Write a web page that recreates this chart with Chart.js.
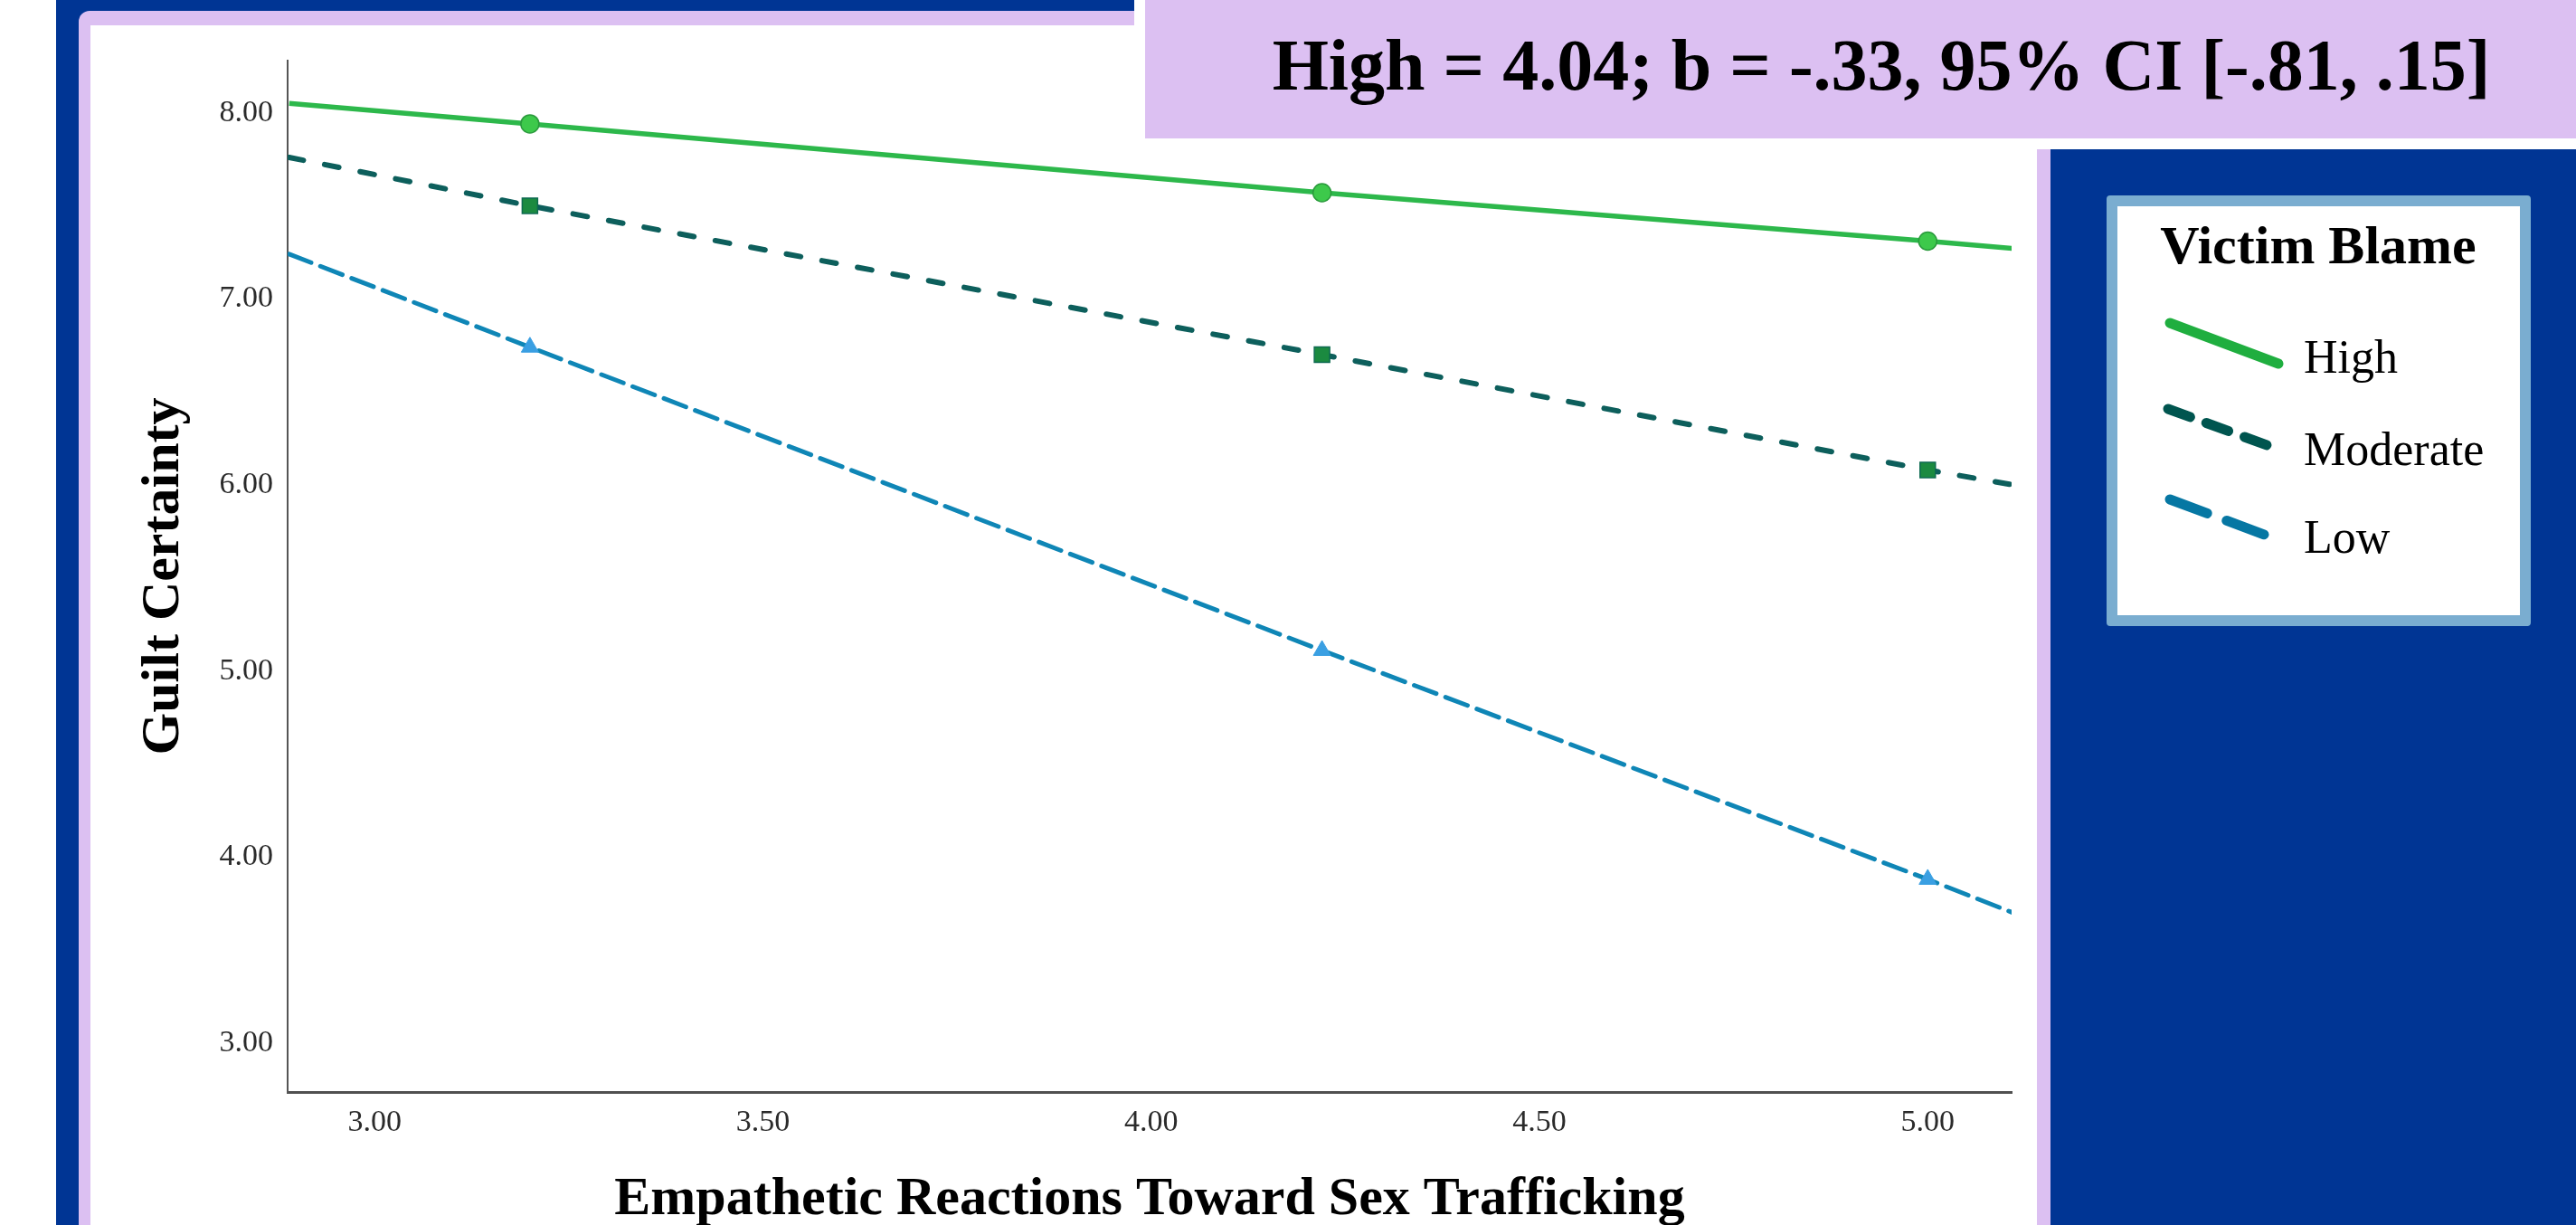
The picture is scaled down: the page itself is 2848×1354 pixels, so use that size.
<!DOCTYPE html>
<html>
<head>
<meta charset="utf-8">
<script src="https://cdn.jsdelivr.net/npm/chart.js@4.4.1/dist/chart.umd.min.js"></script>
<style>
    html, body {
        margin: 0;
        padding: 0;
        width: 2848px;
        height: 1354px;
        overflow: hidden;
        background: #fff;
        font-family: "Liberation Serif", "Times New Roman", serif;
    }
    .bg-blue { position: absolute; left: 62px; top: 0; width: 2786px; height: 1354px; background: #003594; }
    .panel { position: absolute; left: 87px; top: 12px; width: 2180px; height: 1400px; background: #dcc0f2; border-radius: 12px 0 0 0; }
    .plot { position: absolute; left: 100px; top: 28px; width: 2152px; height: 1340px; background: #fff; }
    .title-box { position: absolute; left: 1254px; top: 0; width: 1594px; height: 165px; background: #fff; }
    .title-in { position: absolute; left: 12px; top: 0; right: 0; height: 153px; background: #dcc0f2; }
    .title-text {
        position: absolute; left: 1280px; top: 32px; width: 1600px;
        text-align: center; font-weight: bold; font-size: 80px; line-height: 80px; color: #000;
        white-space: nowrap;
    }
    .legend {
        position: absolute; left: 2329px; top: 216px; width: 469px; height: 476px;
        box-sizing: border-box; border: 12px solid #7aadd0; border-radius: 4px; background: #fff;
    }
    .legend svg { position: absolute; left: -12px; top: -12px; }
    #chart { position: absolute; left: 100px; top: 28px; }
</style>
</head>
<body>

<div class="bg-blue"></div>
<div class="panel"></div>
<div class="plot"></div>
<div class="title-box"><div class="title-in"></div></div>
<div class="title-text">High = 4.04; b = -.33, 95% CI [-.81, .15]</div>

<div class="legend">
    <svg width="469" height="476" xmlns="http://www.w3.org/2000/svg">
        <text x="234" y="75" text-anchor="middle" font-family="Liberation Serif" font-weight="bold" font-size="60">Victim Blame</text>
        <line x1="70" y1="141" x2="190" y2="186" stroke="#1fae3f" stroke-width="11" stroke-linecap="round"/>
        <text x="218" y="196" font-family="Liberation Serif" font-size="52">High</text>
        <line x1="68" y1="236" x2="188" y2="280" stroke="#00554f" stroke-width="11" stroke-linecap="round" stroke-dasharray="26 19"/>
        <text x="218" y="298" font-family="Liberation Serif" font-size="52">Moderate</text>
        <line x1="70" y1="336" x2="188" y2="380" stroke="#0677a3" stroke-width="11" stroke-linecap="round" stroke-dasharray="44 23"/>
        <text x="218" y="395" font-family="Liberation Serif" font-size="52">Low</text>
    </svg>
</div>

<canvas id="chart" width="2152" height="1334"></canvas>

<script>
// valeurs (Guilt Certainty selon Empathetic Reactions)
const empathy = [2.89, 3.20, 4.22, 5.00, 5.11];
const highBlame = [8.05, 7.94, 7.57, 7.31, 7.27];
const moderateBlame = [7.76, 7.50, 6.70, 6.08, 6.00];
const lowBlame = [7.24, 6.74, 5.11, 3.88, 3.70];

const xTicks = [3.0, 3.5, 4.0, 4.5, 5.0];
const yTicks = [3, 4, 5, 6, 7, 8];

const xTitle = 'Empathetic Reactions Toward Sex Trafficking';
const yTitle = 'Guilt Certainty';

Chart.defaults.font.family = "'Liberation Serif', 'Times New Roman', serif";

function toPoints(values){
    return values.map(function(v, i){
        return {x: empathy[i], y: v};
    });
}

// marqueurs seulement sur les points mesurés, pas aux bords de l'axe
function markerSize(size){
    return function(ctx){
        const i = ctx.dataIndex;
        return (i === 0 || i === empathy.length - 1) ? 0 : size;
    };
}

const data = {
    datasets: [
        {
            label: 'Low',
            data: toPoints(lowBlame),
            borderColor: '#0f86b6',
            borderWidth: 5,
            borderDash: [26, 11],
            borderCapStyle: 'round',
            pointStyle: 'triangle',
            pointRadius: markerSize(11),
            pointBackgroundColor: '#3a9fe2',
            pointBorderColor: '#3a9fe2',
            pointBorderWidth: 1
        },
        {
            label: 'Moderate',
            data: toPoints(moderateBlame),
            borderColor: '#0d5f5c',
            borderWidth: 6,
            borderDash: [16, 24],
            borderCapStyle: 'round',
            pointStyle: 'rect',
            pointRadius: markerSize(12),
            pointBackgroundColor: '#1b8a40',
            pointBorderColor: '#0d6a50',
            pointBorderWidth: 1.5
        },
        {
            label: 'High',
            data: toPoints(highBlame),
            borderColor: '#2db84b',
            borderWidth: 5.5,
            pointStyle: 'circle',
            pointRadius: markerSize(10),
            pointBackgroundColor: '#3dc94b',
            pointBorderColor: '#2a9a3c',
            pointBorderWidth: 1.5
        }
    ]
};

const config = {
    type: 'line',
    data: data,
    options: {
        responsive: false,
        animation: false,
        events: [],
        layout: {padding: {top: 39, right: 28, left: 0, bottom: 0}},
        plugins: {
            legend: {display: false},
            tooltip: {enabled: false}
        },
        scales: {
            x: {
                type: 'linear',
                min: 2.888,
                max: 5.108,
                afterBuildTicks: function(axis){
                    axis.ticks = xTicks.map(function(v){ return {value: v}; });
                },
                afterFit: function(axis){ axis.height = 155; },
                grid: {display: true, drawOnChartArea: false, drawTicks: false},
                border: {display: true, color: '#505050', width: 3},
                ticks: {
                    padding: 14,
                    color: '#2b2b2b',
                    font: {size: 34},
                    maxRotation: 0,
                    callback: function(v){ return Number(v).toFixed(2); }
                },
                title: {
                    display: true,
                    text: xTitle,
                    color: '#000',
                    font: {size: 60, weight: 'bold'},
                    padding: {top: 0, bottom: 0}
                }
            },
            y: {
                min: 2.737,
                max: 8.28,
                afterBuildTicks: function(axis){
                    axis.ticks = yTicks.map(function(v){ return {value: v}; });
                },
                afterFit: function(axis){ axis.width = 218; },
                grid: {display: true, drawOnChartArea: false, drawTicks: false},
                border: {display: true, color: '#555', width: 2},
                ticks: {
                    padding: 16,
                    color: '#2b2b2b',
                    font: {size: 34},
                    callback: function(v){ return Number(v).toFixed(2); }
                },
                title: {
                    display: true,
                    text: yTitle,
                    color: '#000',
                    font: {size: 60, weight: 'bold'},
                    padding: {top: 45, bottom: 0}
                }
            }
        }
    }
};

const chart = new Chart(document.getElementById('chart'), config);
</script>
</body>
</html>
